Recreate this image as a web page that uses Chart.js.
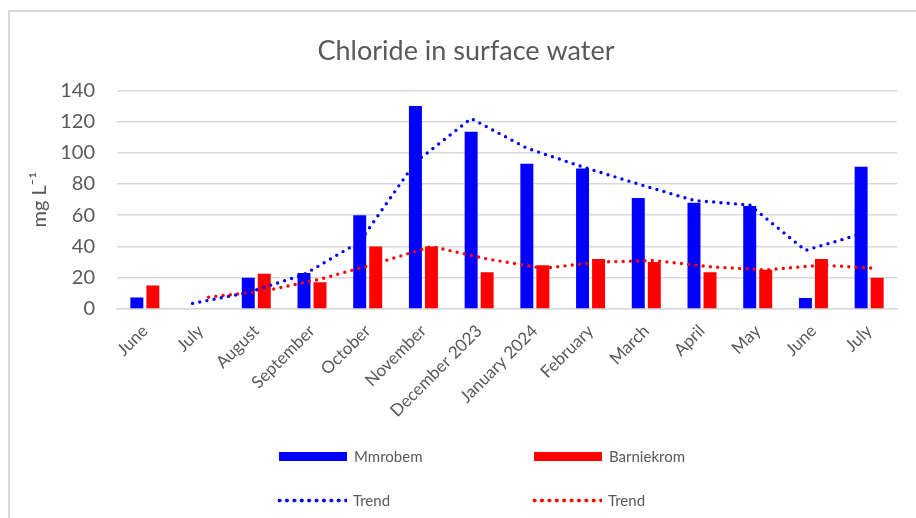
<!DOCTYPE html>
<html>
<head>
<meta charset="utf-8">
<script src="https://cdn.jsdelivr.net/npm/chart.js@4.4.1/dist/chart.umd.min.js"></script>
<style>
  html, body { margin: 0; padding: 0; background: #ffffff; }
  #wrap { position: relative; width: 916px; height: 518px; overflow: hidden; font-family: Lato, "Open Sans", sans-serif; }
  #frame { position: absolute; left: 8px; top: 10px; width: 940px; height: 540px; border-top: 2px solid #d9d9d9; border-left: 2px solid #d9d9d9; box-sizing: border-box; pointer-events: none; }
  #chartBox { position: absolute; left: 0; top: 0; width: 916px; height: 518px; }
  .leg { position: absolute; display: flex; align-items: center; font-size: 15px; color: #595959; height: 20px; }
  .sw { width: 68px; height: 9px; margin-right: 7px; }
  .dot { width: 70px; height: 5px; margin-right: 6px; background-size: 7.4px 5px; background-repeat: repeat-x; }
</style>
</head>
<body>
<div id="wrap">
  <div id="chartBox"><canvas id="c"></canvas></div>
  <div id="frame"></div>
  <div id="legend"></div>
</div>
<script>
// ---- data ----
const categories = ['June', 'July', 'August', 'September', 'October', 'November',
  'December 2023', 'January 2024', 'February', 'March', 'April', 'May', 'June', 'July'];
const mmrobem    = [7.3, null, 20, 23, 60, 130, 113.5, 93, 90, 71, 68, 66, 7, 91];
const barniekrom = [15, null, 22.5, 17, 40, 40, 23.5, 28, 32, 30, 23.5, 25, 32, 20];
const mmrobemTrend    = [null, 3.5, 10.5, 22, 43, 94, 122, 103, 91, 80, 69.5, 66.5, 37.5, 48];
const barniekromTrend = [null, 7.5, 11.5, 19, 29, 40, 32, 26, 30, 31, 27, 25, 28, 26];
const yTicks = [0, 20, 40, 60, 80, 100, 120, 140];
const seriesNames = ['Mmrobem', 'Barniekrom', 'Trend', 'Trend'];
const colours = ['#0000ff', '#ff0000'];

// ---- build ----
const catPct = 0.575;
const barPct = 0.81;
const slotShift = catPct / 4; // centre of each bar slot relative to category centre

const barPoints = (arr) => arr.map((v, i) => ({ x: i, y: v }));
const trendPoints = (arr, shift) => arr.map((v, i) => ({ x: i + shift, y: v }));

const textColour = '#595959';
const ctx = document.getElementById('c');
new Chart(ctx, {
  type: 'bar',
  data: {
    datasets: [
      { label: seriesNames[0], data: barPoints(mmrobem), backgroundColor: colours[0], order: 1,
        categoryPercentage: catPct, barPercentage: barPct },
      { label: seriesNames[1], data: barPoints(barniekrom), backgroundColor: colours[1], order: 1,
        categoryPercentage: catPct, barPercentage: barPct },
      { type: 'line', label: seriesNames[2], data: trendPoints(mmrobemTrend, -slotShift),
        borderColor: colours[0], borderWidth: 3.4, borderDash: [0, 7.3], borderCapStyle: 'round',
        pointRadius: 0, fill: false, tension: 0, spanGaps: false, order: 0 },
      { type: 'line', label: seriesNames[3], data: trendPoints(barniekromTrend, slotShift),
        borderColor: colours[1], borderWidth: 3.4, borderDash: [0, 7.3], borderCapStyle: 'round',
        pointRadius: 0, fill: false, tension: 0, spanGaps: false, order: 0 }
    ]
  },
  options: {
    responsive: true,
    maintainAspectRatio: false,
    animation: false,
    layout: { padding: { left: 35, right: 19, top: 0, bottom: 85 } },
    plugins: {
      legend: { display: false },
      tooltip: { enabled: false },
      title: {
        display: true,
        text: 'Chloride in surface water',
        color: textColour,
        font: { family: 'Lato', size: 27, weight: 'normal' },
        padding: { top: 35, bottom: 23 }
      }
    },
    scales: {
      x: {
        type: 'linear',
        min: -0.5, max: categories.length - 0.5,
        offset: false,
        afterBuildTicks: (axis) => { axis.ticks = categories.map((_, i) => ({ value: i })); },
        grid: { display: false, drawTicks: false, offset: false },
        border: { display: true, color: '#d9d9d9', width: 1.5 },
        ticks: {
          color: textColour, font: { family: 'Lato', size: 17 },
          minRotation: 45, maxRotation: 45, padding: 12, autoSkip: false,
          callback: (v) => categories[v]
        }
      },
      y: {
        min: yTicks[0], max: yTicks[yTicks.length - 1],
        afterBuildTicks: (axis) => { axis.ticks = yTicks.map(v => ({ value: v })); },
        afterFit: (axis) => { axis.width = 82; },
        grid: { color: '#d9d9d9', lineWidth: 1.5, drawTicks: false },
        border: { display: false },
        ticks: { color: textColour, font: { family: 'Lato', size: 20 }, padding: 22 },
        title: {
          display: true, text: 'mg L\u207B\u00B9', color: textColour,
          font: { family: 'Lato', size: 20 }, padding: { top: -7, bottom: 0 }
        }
      }
    }
  }
});

// ---- legend (HTML, built from the series names/colours) ----
const legend = document.getElementById('legend');
const legendItems = [
  { name: seriesNames[0], colour: colours[0], kind: 'bar', left: 279, top: 446 },
  { name: seriesNames[1], colour: colours[1], kind: 'bar', left: 534, top: 446 },
  { name: seriesNames[2], colour: colours[0], kind: 'dot', left: 277, top: 490 },
  { name: seriesNames[3], colour: colours[1], kind: 'dot', left: 532, top: 490 }
];
legendItems.forEach(it => {
  const d = document.createElement('div');
  d.className = 'leg';
  d.style.left = it.left + 'px';
  d.style.top = it.top + 'px';
  const s = document.createElement('div');
  if (it.kind === 'bar') {
    s.className = 'sw';
    s.style.background = it.colour;
  } else {
    s.className = 'dot';
    s.style.backgroundImage = 'radial-gradient(circle at 2.5px 2.5px, ' + it.colour + ' 1.7px, transparent 2.2px)';
  }
  const t = document.createElement('span');
  t.textContent = it.name;
  d.appendChild(s);
  d.appendChild(t);
  legend.appendChild(d);
});
</script>
</body>
</html>
